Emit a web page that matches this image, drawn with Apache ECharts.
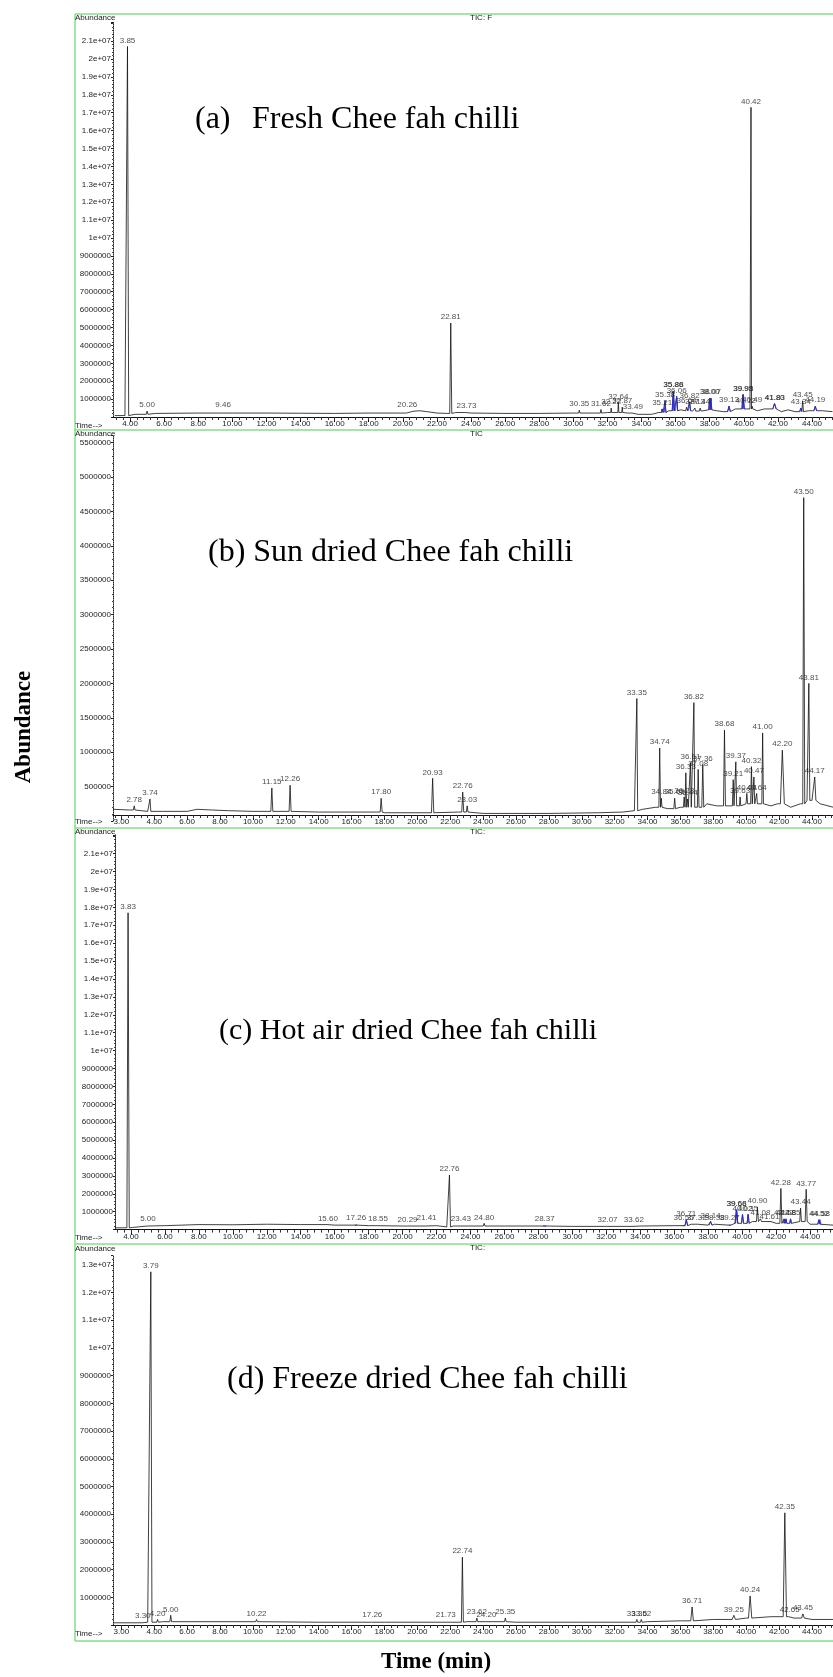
<!DOCTYPE html>
<html><head><meta charset="utf-8">
<script src="https://cdn.jsdelivr.net/npm/echarts@6/dist/echarts.min.js"></script>
<style>html,body{margin:0;padding:0;background:#fff}#c{width:833px;height:1677px}</style>
</head><body><div id="c"></div>
<script>
// ===== DATA =====
// Baseline points [time (min), abundance]; peaks [time, apex abundance, half width (min)]
const aBaseline = [[3.10,80000],[3.70,80000],[4.00,50000],[4.30,150000],[5.50,200000],[8.00,220000],[10.00,220000],[12.00,220000],[14.00,210000],[16.00,200000],[18.00,220000],[19.50,220000],[20.60,320000],[21.00,350000],[21.40,300000],[22.00,220000],[22.60,200000],[23.10,250000],[24.00,220000],[26.00,200000],[28.00,200000],[30.00,220000],[32.00,250000],[33.20,220000],[33.80,150000],[34.60,150000],[35.00,250000],[35.60,350000],[36.30,400000],[36.60,350000],[37.00,330000],[37.60,400000],[38.40,350000],[38.80,300000],[39.50,450000],[40.80,350000],[41.20,450000],[42.20,300000],[42.60,400000],[43.00,300000],[43.80,350000],[44.60,350000],[45.20,300000]];
const aPeaks = [[3.85,20700000,0.07],[5.00,330000,0.05],[9.46,330000,0.05],[20.26,330000,0.05],[22.81,5250000,0.06],[23.73,280000,0.05],[30.35,380000,0.04],[31.62,420000,0.04],[32.22,500000,0.03],[32.64,800000,0.03],[32.87,550000,0.03],[33.49,250000,0.05],[35.21,450000,0.05],[35.38,900000,0.05],[35.86,1450000,0.06],[35.88,1450000,0.04],[36.06,1150000,0.06],[36.64,550000,0.05],[36.82,850000,0.06],[37.13,500000,0.05],[37.44,500000,0.05],[38.00,1050000,0.06],[38.07,1050000,0.05],[39.13,600000,0.08],[39.95,1250000,0.06],[39.98,1250000,0.05],[40.12,550000,0.04],[40.42,17300000,0.06],[40.49,600000,0.04],[41.80,750000,0.10],[41.83,750000,0.08],[43.34,500000,0.06],[43.45,900000,0.05],[44.19,600000,0.08]];
const aBlue = [35.21,35.38,35.86,35.88,36.06,36.82,38.00,38.07,39.13,39.95,39.98,41.80,43.34,44.19];

const bBaseline = [[1.50,170000],[2.50,160000],[3.20,150000],[3.60,140000],[4.50,140000],[6.00,140000],[6.60,170000],[7.50,160000],[8.50,150000],[10.00,140000],[14.00,130000],[18.00,120000],[21.00,120000],[22.50,130000],[24.00,110000],[28.00,110000],[31.00,120000],[32.50,130000],[33.20,150000],[33.70,170000],[34.50,200000],[35.20,180000],[36.00,200000],[37.60,250000],[38.20,220000],[39.00,220000],[40.00,250000],[41.50,220000],[41.90,250000],[42.70,200000],[43.30,250000],[43.70,300000],[44.00,300000],[44.50,250000],[45.30,200000]];
const bPeaks = [[2.78,220000,0.05],[3.74,320000,0.05],[11.15,480000,0.06],[12.26,520000,0.06],[17.80,330000,0.06],[20.93,620000,0.07],[22.76,420000,0.06],[23.03,220000,0.05],[33.35,1780000,0.05],[34.74,1060000,0.05],[34.84,330000,0.04],[35.65,330000,0.05],[36.23,350000,0.05],[36.33,700000,0.05],[36.44,320000,0.04],[36.61,850000,0.05],[36.82,1720000,0.05],[37.08,750000,0.05],[37.36,820000,0.06],[38.68,1320000,0.06],[39.21,600000,0.05],[39.37,860000,0.05],[39.63,350000,0.04],[40.04,400000,0.05],[40.32,790000,0.05],[40.47,640000,0.05],[40.64,400000,0.04],[41.00,1280000,0.05],[42.20,1030000,0.12],[43.50,4700000,0.06],[43.81,2000000,0.06],[44.17,640000,0.07]];
const bBlue = [];

const cBaseline = [[3.06,100000],[3.60,100000],[4.10,120000],[5.00,200000],[6.00,220000],[8.00,280000],[10.00,270000],[12.00,300000],[14.00,280000],[16.00,250000],[18.00,220000],[20.00,200000],[22.00,220000],[22.60,150000],[23.00,200000],[26.00,200000],[30.00,180000],[34.00,200000],[36.00,220000],[37.00,300000],[38.00,250000],[39.40,350000],[40.60,450000],[41.40,450000],[42.00,350000],[43.00,450000],[44.00,300000],[45.35,250000]];
const cPeaks = [[3.83,17700000,0.07],[5.00,280000,0.05],[15.60,250000,0.05],[17.26,330000,0.08],[18.55,250000,0.05],[20.29,220000,0.05],[21.41,300000,0.05],[22.76,3050000,0.06],[23.43,250000,0.05],[24.80,350000,0.05],[28.37,250000,0.10],[32.07,200000,0.05],[33.62,220000,0.05],[36.55,320000,0.08],[36.71,550000,0.08],[37.32,300000,0.06],[38.14,450000,0.08],[38.38,300000,0.06],[39.27,320000,0.06],[39.66,1100000,0.08],[39.68,1100000,0.06],[40.02,850000,0.06],[40.35,850000,0.06],[40.90,1250000,0.06],[41.08,600000,0.06],[41.61,400000,0.08],[42.28,2300000,0.06],[42.47,600000,0.05],[42.58,600000,0.05],[42.85,600000,0.05],[43.44,1200000,0.05],[43.77,2250000,0.06],[44.52,550000,0.07],[44.58,550000,0.06]];
const cBlue = [17.26,28.37,36.55,36.71,38.14,39.27,39.66,39.68,40.02,40.35,41.61,42.47,42.58,42.85,44.52,44.58];

const dBaseline = [[1.50,80000],[3.00,80000],[3.60,100000],[4.50,120000],[6.00,120000],[10.00,120000],[14.00,100000],[18.00,100000],[22.00,100000],[23.00,120000],[26.00,100000],[30.00,100000],[34.00,120000],[36.00,150000],[38.00,200000],[40.00,250000],[41.50,300000],[42.90,250000],[44.00,200000],[45.30,200000]];
const dPeaks = [[3.30,120000,0.05],[3.79,12750000,0.07],[4.20,200000,0.05],[5.00,350000,0.05],[10.22,200000,0.05],[17.26,150000,0.05],[21.73,150000,0.05],[22.74,2450000,0.06],[23.62,250000,0.05],[24.20,150000,0.05],[25.35,250000,0.05],[33.35,200000,0.05],[33.62,200000,0.05],[36.71,650000,0.08],[39.25,350000,0.10],[40.24,1050000,0.10],[42.35,4050000,0.10],[42.65,350000,0.06],[43.45,400000,0.08]];
const dBlue = [];

// x tick labels
const tickEven = [4,6,8,10,12,14,16,18,20,22,24,26,28,30,32,34,36,38,40,42,44];
const tickBD = [2,4,6,8,10,12,14,16,18,20,22,24,26,28,30,32,34,36,38,40,42,44];
const tickBDText = ['3.00','4.00','6.00','8.00','10.00','12.00','14.00','16.00','18.00','20.00','22.00','24.00','26.00','28.00','30.00','32.00','34.00','36.00','38.00','40.00','42.00','44.00'];

const titles = ['(a)', 'Fresh Chee fah chilli', '(b) Sun dried Chee fah chilli', '(c) Hot air dried Chee fah chilli', '(d) Freeze dried Chee fah chilli'];

// ===== BUILD =====
function baseAt(base, t) { let v = base[0][1]; for (const p of base) { if (p[0] <= t) v = p[1]; } return v; }
function buildTrace(base, peaks) {
  const pts = base.filter(p => !peaks.some(k => p[0] > k[0]-k[2] && p[0] < k[0]+k[2])).map(p => [p[0], p[1]]);
  peaks.forEach(([t,h,w]) => { const b = baseAt(base, t); pts.push([t-w,b],[t,h],[t+w,b]); });
  pts.sort((a,b) => a[0]-b[0]);
  return pts;
}
function buildBlue(base, peaks, blue) {
  const out = [];
  blue.forEach(bt => { const k = peaks.find(p => Math.abs(p[0]-bt) < 1e-6); if (!k) return; const b = baseAt(base, k[0]); out.push([k[0]-k[2],b],[k[0],k[1]],[k[0]+k[2],b],[k[0]+k[2],'-']); });
  return out;
}

const panels = [
  {base:aBaseline, peaks:aPeaks, blue:aBlue, top:22.3, height:394.7, left:113, xmin:3.0, xmax:45.23, ymax:22050000, yint:1000000, ylabMax:21500000, ticks:tickEven, tickText:null},
  {base:bBaseline, peaks:bPeaks, blue:bBlue, top:435.7, height:385.3, left:113, xmin:1.49, xmax:45.28, ymax:5600000, yint:500000, ylabMax:5550000, ticks:tickBD, tickText:tickBDText, xoff:-6},
  {base:cBaseline, peaks:cPeaks, blue:cBlue, top:834.9, height:394.7, left:115, xmin:3.06, xmax:45.35, ymax:22050000, yint:1000000, ylabMax:21500000, ticks:tickEven, tickText:null},
  {base:dBaseline, peaks:dPeaks, blue:dBlue, top:1255.2, height:369.8, left:113, xmin:1.49, xmax:45.28, ymax:13350000, yint:1000000, ylabMax:13100000, ticks:tickBD, tickText:tickBDText}
];

const FONT = 'Liberation Sans, Arial, sans-serif';
const SERIF = 'Liberation Serif, Times New Roman, serif';
const grid = [], xAxis = [], yAxis = [], series = [];
panels.forEach((p, i) => {
  grid.push({left:p.left, right:0, top:p.top, height:p.height, containLabel:false});
  const minor = [];
  for (let v = Math.ceil(p.xmin/0.4)*0.4; v <= p.xmax; v += 0.4) minor.push(Math.round(v*100)/100);
  xAxis.push({type:'value', gridIndex:i, min:p.xmin, max:p.xmax, offset:p.xoff||0,
    axisLine:{show:true, onZero:false, lineStyle:{color:'#111', width:1}},
    axisTick:{show:true, length:5, customValues:p.ticks, lineStyle:{color:'#111'}},
    axisLabel:{show:true, customValues:p.ticks, fontSize:8, fontFamily:FONT, color:'#222', margin:3,
      formatter: v => { if (p.tickText) { const j = p.ticks.indexOf(v); return j >= 0 ? p.tickText[j] : ''; } return v.toFixed(2); }},
    splitLine:{show:false}});
  xAxis.push({type:'value', gridIndex:i, min:p.xmin, max:p.xmax, offset:p.xoff||0, position:'bottom',
    axisLine:{show:false}, axisTick:{show:true, length:3, customValues:minor, lineStyle:{color:'#333'}},
    axisLabel:{show:false}, splitLine:{show:false}});
  yAxis.push({type:'value', gridIndex:i, min:0, max:p.ymax, interval:p.yint,
    axisLine:{show:true, lineStyle:{color:'#222', type:'dotted', width:1}},
    axisTick:{show:true, length:2, lineStyle:{color:'#222'}},
    minorTick:{show:true, splitNumber:5, length:1, lineStyle:{color:'#444'}},
    axisLabel:{fontSize:8, fontFamily:FONT, color:'#222', margin:2, showMaxLabel:true,
      formatter: v => { if (v === 0 || v > p.ylabMax) return ''; if (v >= 1e7) return (Math.round(v/1e6)/10) + 'e+07'; return String(Math.round(v)); }},
    splitLine:{show:false}});
  const xi = i*2;
  series.push({type:'line', xAxisIndex:xi, yAxisIndex:i, data:buildTrace(p.base, p.peaks), symbol:'none', animation:false,
    lineStyle:{color:'#111', width:0.8}, silent:true, z:2});
  if (p.blue.length) series.push({type:'line', xAxisIndex:xi, yAxisIndex:i, data:buildBlue(p.base, p.peaks, p.blue), symbol:'none', connectNulls:false, animation:false,
    lineStyle:{color:'#2a2ad0', width:0.9}, silent:true, z:3});
  series.push({type:'scatter', xAxisIndex:xi, yAxisIndex:i, data:p.peaks.map(k => [k[0], k[1]]), symbolSize:0, animation:false, silent:true, z:4,
    label:{show:true, position:'top', distance:2, fontSize:8, fontFamily:FONT, color:'#222', formatter: o => o.value[0].toFixed(2)}});
});

const GREEN = '#88dd88';
const txt = (x, y, s, style) => ({type:'text', x, y, silent:true, style:Object.assign({text:s, fill:'#222', font:'8px ' + FONT, textVerticalAlign:'middle'}, style||{})});
const line = (x1,y1,x2,y2) => ({type:'line', silent:true, shape:{x1,y1,x2,y2}, style:{stroke:GREEN, lineWidth:1.5}});
const graphic = [
  line(75,14,833,14), line(75,430,833,430), line(75,828,833,828), line(75,1244,833,1244), line(75,1641,833,1641), line(75,14,75,1641),
  txt(75,18,'Abundance'), txt(75,434,'Abundance'), txt(75,832,'Abundance'), txt(75,1249,'Abundance'),
  txt(75,426,'Time-->'), txt(75,822,'Time-->'), txt(75,1238,'Time-->'), txt(75,1634,'Time-->'),
  txt(470,18,'TIC: F'), txt(470,434,'TIC'), txt(470,832,'TIC:'), txt(470,1248,'TIC:'),
  txt(195,120,titles[0],{font:'32px ' + SERIF, fill:'#000'}),
  txt(252,120,titles[1],{font:'32px ' + SERIF, fill:'#000'}),
  txt(208,553,titles[2],{font:'32px ' + SERIF, fill:'#000'}),
  txt(219,1031,titles[3],{font:'30px ' + SERIF, fill:'#000'}),
  txt(227,1380,titles[4],{font:'32px ' + SERIF, fill:'#000'}),
  {type:'text', x:24, y:727, rotation:Math.PI/2, silent:true, style:{text:'Abundance', font:'bold 23px ' + SERIF, fill:'#000', textAlign:'center', textVerticalAlign:'middle'}},
  txt(436,1662,'Time (min)',{font:'bold 23px ' + SERIF, fill:'#000', textAlign:'center'})
];

const chart = echarts.init(document.getElementById('c'), null, {renderer:'canvas'});
chart.setOption({animation:false, backgroundColor:'#fff', grid, xAxis, yAxis, series, graphic});
</script></body></html>
